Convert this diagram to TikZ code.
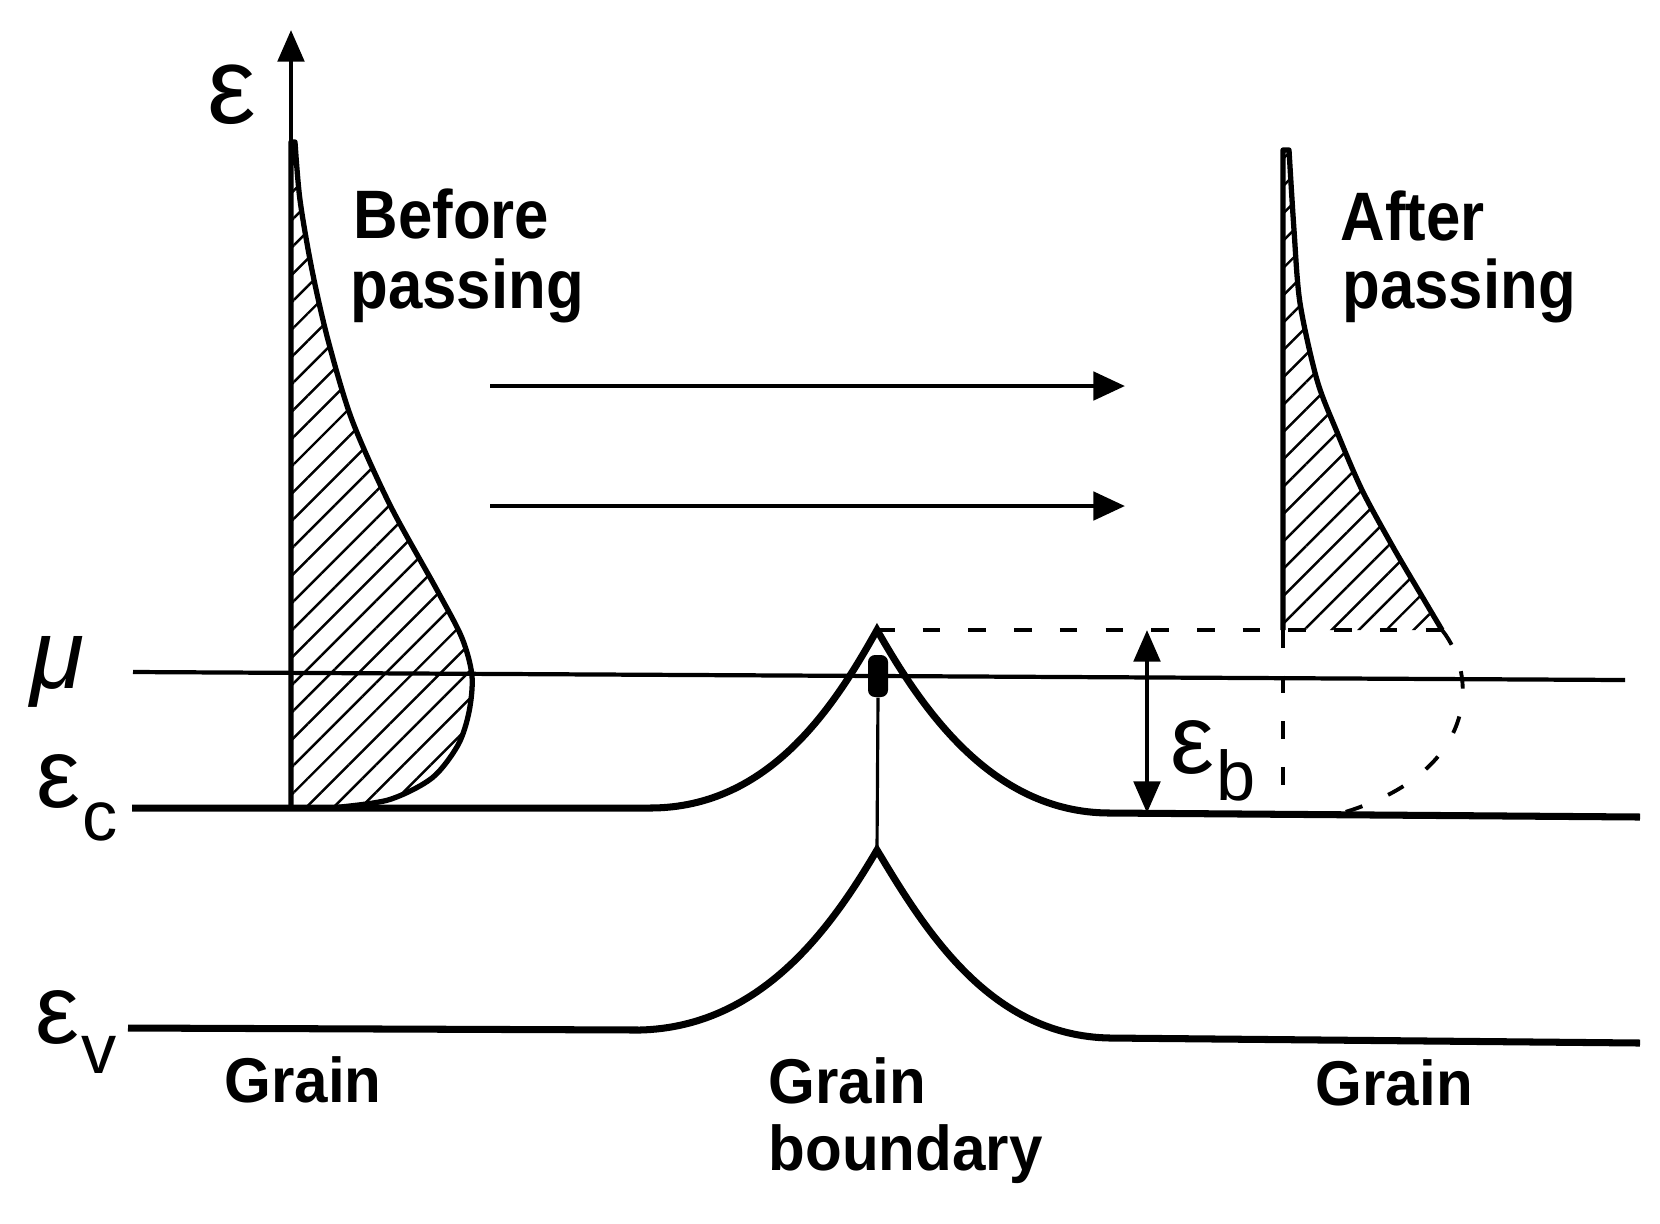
\documentclass[tikz,border=0pt]{standalone}
\usepackage{fontspec}
\setmainfont{Liberation Sans}
\usetikzlibrary{arrows.meta}
\usetikzlibrary{patterns.meta}

\tikzset{
  band/.style={line width=2pt},
  level/.style={line width=1.2pt},
  dos/.style={line width=1.5pt, line join=round},
  hatch/.style={pattern={Lines[angle=45,distance=5.5pt,line width=0.7pt]}},
  flow/.style={line width=1.3pt, -{Triangle[length=9pt,width=8pt]}},
  guide/.style={line width=1.1pt, dash pattern=on 5pt off 8pt},
  txt/.style={font=\bfseries\fontsize{19.5}{21}\selectfont, inner sep=0pt, anchor=base west, xscale=0.9},
  lowtxt/.style={font=\bfseries\fontsize{18}{20}\selectfont, inner sep=0pt, anchor=base west, xscale=0.95},
  sym/.style={font=\fontsize{28}{28}\selectfont, inner sep=0pt, anchor=base west},
  sub/.style={font=\fontsize{20}{20}\selectfont, inner sep=0pt, anchor=base west},
}

\begin{document}
\begin{tikzpicture}[x=0.01cm, y=-0.01cm]
  \useasboundingbox (0,0) rectangle (1660,1223);

  \coordinate (cpk) at (877,630);
  \coordinate (vpk) at (877,850);
  \coordinate (axbot) at (291,808);
  \coordinate (axtop) at (291,30);
  \coordinate (a1s) at (490,386);
  \coordinate (a1e) at (1125,386);
  \coordinate (a2s) at (490,506);
  \coordinate (a2e) at (1125,506);
  \coordinate (ebtop) at (1147,630);
  \coordinate (ebbot) at (1147,813);

  % bands
  \draw[band] (132,808) -- (650,808) .. controls (770,808) and (835,705) .. (cpk)
    .. controls (920,705) and (990,813) .. (1110,813) -- (1640,817);
  \draw[band] (128,1028) -- (640,1030) .. controls (760,1027) and (830,930) .. (vpk)
    .. controls (925,930) and (990,1036) .. (1110,1038) -- (1640,1043);
  \draw[level] (133,672) -- (1625,680);

  % energy axis and distribution before passing
  \draw[level, -{Triangle[length=9pt,width=7.5pt]}] (axbot) -- (axtop);
  \draw[dos, hatch] (axbot) -- (291,142) -- (295,142) -- plot[smooth] coordinates {
    (295,142) (300,200) (312,270) (328,340) (352,420) (390,505) (437,590)
    (462,638) (472,676) (469,712) (458,745) (432,778) (388,800) (330,808)} -- cycle;

  % distribution after passing
  \draw[dos, hatch] (1283,630) -- (1283,150) -- (1289,150) -- plot[smooth] coordinates {
    (1289,150) (1294,230) (1300,303) (1317,380) (1337,432) (1362,490)
    (1393,547) (1423,598) (1442,630)};
  \draw[guide] (cpk) -- (1468,630);
  \draw[guide] (1283,630) -- (1283,813);
  \draw[guide] (1442,630) .. controls (1478,675) and (1480,772) .. (1342,813);

  % grain boundary
  \node[fill, minimum width=0.2cm, minimum height=0.42cm, rounded corners=2pt, inner sep=0pt] (gb) at (878,676) {};
  \draw[line width=0.9pt] (gb.south) -- (vpk);

  \draw[flow] (a1s) -- (a1e);
  \draw[flow] (a2s) -- (a2e);
  \draw[level, {Triangle[length=9pt,width=7.5pt]}-{Triangle[length=9pt,width=7.5pt]}] (ebtop) -- (ebbot);

  % labels
  \node[sym, font=\fontsize{31}{31}\selectfont] (eps) at (207,123) {ε};
  \node[sym, font=\itshape\fontsize{28}{28}\selectfont] (mu) at (30,688) {μ};
  \node[sym] (ec) at (36,807) {ε};
  \node[sub] (ecs) at ([yshift=-0.33cm]ec.base east) {c};
  \node[sym] (ev) at (35,1043) {ε};
  \node[sub] (evs) at ([yshift=-0.30cm]ev.base east) {v};
  \node[sym] (eb) at (1170,773) {ε};
  \node[sub] (ebs) at ([yshift=-0.27cm]eb.base east) {b};

  \node[txt] (bef1) at (353,238) {Before};
  \node[txt] (bef2) at (350,308) {passing};
  \node[txt] (aft1) at (1340,240) {After};
  \node[txt] (aft2) at (1342,308) {passing};
  \node[lowtxt] (gl) at (224,1102) {Grain};
  \node[lowtxt] (gb1) at (768,1103) {Grain};
  \node[lowtxt] (gb2) at (768,1170) {boundary};
  \node[lowtxt] (gr) at (1315,1105) {Grain};
\end{tikzpicture}
\end{document}
